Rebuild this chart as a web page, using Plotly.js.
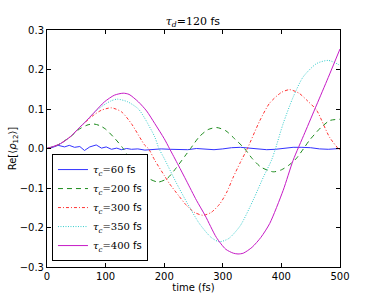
<!DOCTYPE html>
<html>
<head>
<meta charset="utf-8">
<script src="https://cdn.plot.ly/plotly-3.0.1.min.js"></script>
<style>html,body{margin:0;padding:0;background:#fff;}#chart{width:378px;height:296px;}</style>
</head>
<body>
<div id="chart"></div>
<script>
// tau_c = 60 fs
var t60 = [0,8,19,30,38,47,56,64,73,84,93,101,110,119,127,136,144,155,167,180,195,210,224,240,255,270,285,300,315,330,345,360,375,390,405,420,435,450,465,480,500];
var v60 = [0,0.002,0.008,0.004,0.008,0.003,0.005,-0.005,0.004,0.009,0.001,0.004,-0.002,0.001,-0.003,0.0,-0.002,-0.001,-0.004,-0.002,-0.001,-0.002,-0.003,-0.003,0.0,-0.002,-0.003,-0.001,0.002,0.003,0.001,-0.002,-0.003,-0.002,0.0,0.003,0.003,0.002,-0.001,-0.002,0.0];
// tau_c = 200 fs
var t200 = [0,20,40,56,70,80,90,100,116,130,141,160,175,190,205,220,235,245,260,275,290,305,320,337,350,365,386,400,412,425,438,448,468,483,500];
var v200 = [0,0.01,0.03,0.05,0.06,0.062,0.058,0.049,0.025,0,-0.025,-0.058,-0.077,-0.085,-0.076,-0.05,-0.02,0,0.03,0.048,0.053,0.045,0.025,0,-0.025,-0.047,-0.059,-0.054,-0.043,-0.026,0,0.021,0.054,0.071,0.074];
// tau_c = 300 fs
var t300 = [0,20,40,56,64,80,93,110,127,144,167,173,184,200,209,225,238,252,266,280,295,307,318,330,342,363,380,400,414,430,445,460,482,497,500];
var v300 = [0,0.01,0.03,0.054,0.065,0.085,0.097,0.103,0.093,0.063,0.008,0,-0.03,-0.068,-0.089,-0.12,-0.144,-0.162,-0.169,-0.162,-0.14,-0.11,-0.072,-0.035,0,0.07,0.115,0.142,0.149,0.14,0.12,0.097,0.029,0,-0.003];
// tau_c = 350 fs
var t350 = [0,20,40,56,70,85,100,110,120,138,156,167,184,191,200,220,240,260,280,294,310,330,352,370,383,390,403,420,437,460,480,497,500];
var v350 = [0,0.01,0.03,0.054,0.075,0.097,0.113,0.121,0.125,0.118,0.1,0.076,0.029,0,-0.025,-0.085,-0.14,-0.19,-0.225,-0.236,-0.228,-0.195,-0.13,-0.07,-0.03,0,0.063,0.13,0.181,0.215,0.223,0.213,0.21];
// tau_c = 400 fs
var t400 = [0,20,27,40,56,64,81,98,115,130,140,156,170,184,200,209,224,238,255,270,289,305,318,326,335,350,365,380,403,420,440,460,480,500];
var v400 = [0,0.01,0.016,0.03,0.054,0.065,0.092,0.118,0.135,0.14,0.137,0.118,0.095,0.063,0.025,0,-0.042,-0.082,-0.131,-0.17,-0.225,-0.255,-0.265,-0.267,-0.265,-0.25,-0.225,-0.19,-0.106,-0.03,0.04,0.11,0.18,0.252];

var xTicks = [0,100,200,300,400,500];
var yTicks = [-0.3,-0.2,-0.1,0.0,0.1,0.2,0.3];
var names = ['60','200','300','350','400'];

function lbl(n){
  return '<span style="font-family:DejaVu Serif"><i>τ</i><sub><i>c</i></sub>=' + n + '</span> fs';
}
var F = 'DejaVu Sans, sans-serif';
var traces = [
  {x:t60, y:v60, name:lbl(names[0]), mode:'lines', line:{color:'#3333ff', width:1}},
  {x:t200, y:v200, name:lbl(names[1]), mode:'lines', line:{color:'#1a8a1a', width:1, dash:'5px,4px', shape:'spline', smoothing:0.7}},
  {x:t300, y:v300, name:lbl(names[2]), mode:'lines', line:{color:'#ff3333', width:1, dash:'3px,2px,1px,2px', shape:'spline', smoothing:0.7}},
  {x:t350, y:v350, name:lbl(names[3]), mode:'lines', line:{color:'#33cccc', width:1, dash:'1px,1.5px', shape:'spline', smoothing:0.7}},
  {x:t400, y:v400, name:lbl(names[4]), mode:'lines', line:{color:'#c61ac6', width:1, shape:'spline', smoothing:0.7}}
];
var axisCommon = {showgrid:false, zeroline:false, showline:true, linecolor:'#000', linewidth:1,
  ticks:'inside', ticklen:4, tickcolor:'#000', mirror:'allticks', tickfont:{family:F, size:10, color:'#000'}};
var layout = {
  width:378, height:296,
  margin:{l:47, r:38, t:30, b:29},
  paper_bgcolor:'#fff', plot_bgcolor:'#fff',
  font:{family:F, size:10, color:'#000'},
  showlegend:true,
  title:{text:'<span style="font-family:DejaVu Serif"><i>τ</i><sub><i>d</i></sub>=120</span> fs', font:{family:F, size:11, color:'#000'}, x:0.5104, xanchor:'center', y:0.93, yanchor:'middle', yref:'container'},
  xaxis:Object.assign({}, axisCommon, {range:[0,500], tickvals:xTicks, ticktext:xTicks.map(String),
    title:{text:'time (fs)', font:{family:F, size:10, color:'#000'}, standoff:0}}),
  yaxis:Object.assign({}, axisCommon, {range:[-0.3,0.3], tickvals:yTicks, tickformat:'.1f',
    title:{text:'Re[⟨<i>ρ</i><sub>12</sub>⟩]', font:{family:F, size:10, color:'#000'}, standoff:1}}),
  legend:{x:0.017, y:0.025, xanchor:'left', yanchor:'bottom', bgcolor:'#fff', bordercolor:'#000', borderwidth:1,
    font:{family:F, size:10, color:'#000'}, tracegroupgap:0, itemwidth:30}
};
Plotly.newPlot('chart', traces, layout, {displayModeBar:false, staticPlot:true});
</script>
</body>
</html>
